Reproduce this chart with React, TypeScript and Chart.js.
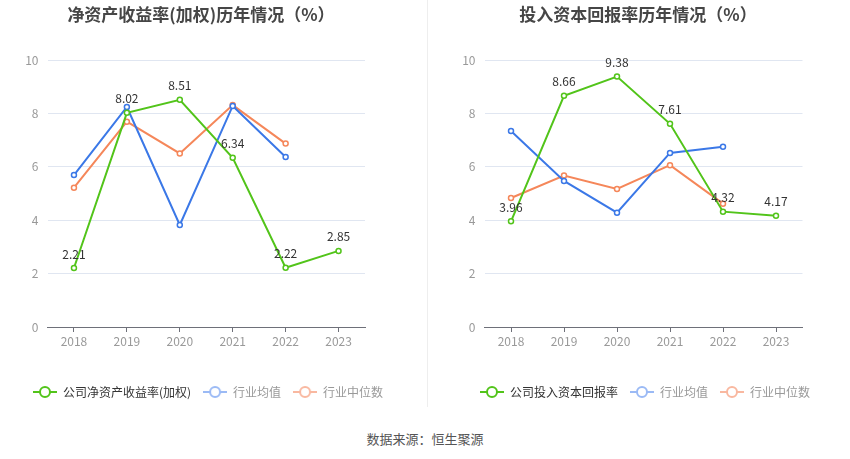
import React, { useEffect, useRef } from "react";
import { Chart, registerables } from "chart.js";

Chart.register(...registerables);

const years = ["2018", "2019", "2020", "2021", "2022", "2023"];

const roeCompany = [2.21, 8.02, 8.51, 6.34, 2.22, 2.85];
const roeIndustryAvg = [5.69, 8.24, 3.82, 8.28, 6.37, null];
const roeIndustryMedian = [5.22, 7.69, 6.5, 8.31, 6.87, null];

const roicCompany = [3.96, 8.66, 9.38, 7.61, 4.32, 4.17];
const roicIndustryAvg = [7.34, 5.47, 4.28, 6.52, 6.75, null];
const roicIndustryMedian = [4.83, 5.67, 5.17, 6.06, 4.62, null];

const yTicks = [0, 2, 4, 6, 8, 10];

const GREEN = "#52c41a";
const BLUE = "#3b78e7";
const ORANGE = "#f5875a";
const FONT = "'Noto Sans CJK SC', 'Noto Sans', sans-serif";

function makeMarker(color: string): HTMLCanvasElement {
  const c = document.createElement("canvas");
  c.width = 24;
  c.height = 14;
  const ctx = c.getContext("2d")!;
  ctx.strokeStyle = color;
  ctx.lineWidth = 2;
  ctx.beginPath();
  ctx.moveTo(0, 7);
  ctx.lineTo(24, 7);
  ctx.stroke();
  ctx.fillStyle = "#fff";
  ctx.beginPath();
  ctx.arc(12, 7, 5, 0, Math.PI * 2);
  ctx.fill();
  ctx.stroke();
  return c;
}

const valueLabels = {
  id: "valueLabels",
  afterDatasetsDraw(chart: any) {
    const ctx = chart.ctx;
    const meta = chart.getDatasetMeta(0);
    const data = chart.data.datasets[0].data;
    ctx.save();
    ctx.font = `12px ${FONT}`;
    ctx.fillStyle = "#333";
    ctx.textAlign = "center";
    ctx.textBaseline = "middle";
    meta.data.forEach((pt: any, i: number) => {
      const v = data[i];
      if (v == null) return;
      ctx.fillText(v.toFixed(2), pt.x, pt.y - 14);
    });
    ctx.restore();
  },
};

const legendShift = {
  id: "legendShift",
  afterLayout(chart: any, _args: any, opts: any) {
    const s = opts && opts.shift ? opts.shift : 0;
    if (chart.legend && s) {
      chart.legend.left += s;
      chart.legend.right += s;
    }
  },
};

type PanelProps = {
  label: string;
  company: (number | null)[];
  avg: (number | null)[];
  median: (number | null)[];
  yWidth: number;
  rWidth: number;
  shift: number;
};

function Panel({ label, company, avg, median, yWidth, rWidth, shift }: PanelProps) {
  const ref = useRef<HTMLCanvasElement>(null);
  useEffect(() => {
    const markers = [makeMarker(GREEN), makeMarker("#9bbaf5"), makeMarker("#f9b8a0")];
    const textColors = ["#333", "#999", "#999"];
    const mk = (l: string, d: (number | null)[], color: string) => ({
      label: l,
      data: d,
      borderColor: color,
      backgroundColor: color,
      borderWidth: 2,
      pointRadius: 2.5,
      pointHoverRadius: 2.5,
      pointBorderWidth: 1.5,
      pointBackgroundColor: "#fff",
      pointBorderColor: color,
      tension: 0,
      spanGaps: false,
    });
    const chart = new Chart(ref.current!, {
      type: "line",
      data: {
        labels: years,
        datasets: [
          mk(label, company, GREEN),
          mk("行业均值", avg, BLUE),
          mk("行业中位数", median, ORANGE),
        ],
      },
      options: {
        responsive: false,
        animation: false,
        layout: { padding: { left: 21, right: 0, top: 60, bottom: 2 } },
        plugins: {
          tooltip: { enabled: false },
          title: { display: false },
          legendShift: { shift },
          legend: {
            display: true,
            position: "bottom",
            align: "start",
            labels: {
              usePointStyle: true,
              pointStyleWidth: 24,
              boxHeight: 12,
              padding: 12,
              font: { size: 12, family: FONT },
              generateLabels: (ch: any) =>
                ch.data.datasets.map((ds: any, i: number) => ({
                  text: ds.label,
                  fillStyle: "#fff",
                  strokeStyle: ds.borderColor,
                  lineWidth: 0,
                  pointStyle: markers[i],
                  fontColor: textColors[i],
                  hidden: false,
                  datasetIndex: i,
                })),
            },
          },
        },
        scales: {
          x: {
            type: "category",
            offset: true,
            grid: {
              display: true,
              drawOnChartArea: false,
              drawTicks: true,
              tickLength: 5,
              color: "#6e7079",
            },
            border: { display: true, color: "#6e7079", width: 1 },
            ticks: { color: "#999", font: { size: 12, family: FONT }, padding: 2 },
            afterFit: (s: any) => {
              s.height = 47;
            },
          },
          y: {
            type: "linear",
            position: "left",
            min: 0,
            max: 10,
            afterBuildTicks: (s: any) => {
              s.ticks = yTicks.map((v) => ({ value: v }));
            },
            grid: { color: "#e0e6f1", drawTicks: false, lineWidth: 1 },
            border: { display: false },
            ticks: { color: "#999", font: { size: 12, family: FONT }, padding: 9 },
            afterFit: (s: any) => {
              s.width = yWidth;
            },
          },
          yr: {
            type: "linear",
            position: "right",
            display: true,
            grid: { display: false },
            border: { display: false },
            ticks: { display: false },
            afterFit: (s: any) => {
              s.width = rWidth;
            },
          },
        },
      } as any,
      plugins: [valueLabels, legendShift],
    });
    return () => chart.destroy();
  }, []);
  return <canvas ref={ref} width={425} height={410} />;
}

export default function App() {
  const titleStyle: React.CSSProperties = {
    position: "absolute",
    top: 2,
    width: 400,
    textAlign: "center",
    fontFamily: FONT,
    fontWeight: 700,
    fontSize: 17,
    color: "#464646",
    lineHeight: "24px",
    whiteSpace: "nowrap",
  };
  return (
    <div
      style={{
        position: "absolute",
        left: 0,
        top: 0,
        width: 850,
        height: 459,
        background: "#fff",
        overflow: "hidden",
      }}
    >
      <div style={{ position: "absolute", left: 0, top: 0 }}>
        <Panel
          label="公司净资产收益率(加权)"
          company={roeCompany}
          avg={roeIndustryAvg}
          median={roeIndustryMedian}
          yWidth={26.5}
          rWidth={60}
          shift={0}
        />
      </div>
      <div style={{ position: "absolute", left: 425, top: 0 }}>
        <Panel
          label="公司投入资本回报率"
          company={roicCompany}
          avg={roicIndustryAvg}
          median={roicIndustryMedian}
          yWidth={38.5}
          rWidth={47.5}
          shift={22}
        />
      </div>
      <div style={{ ...titleStyle, left: 201 - 200 }}>净资产收益率(加权)历年情况（%）</div>
      <div style={{ ...titleStyle, left: 638 - 200 }}>投入资本回报率历年情况（%）</div>
      <div
        style={{
          position: "absolute",
          left: 427,
          top: 0,
          width: 1,
          height: 407,
          background: "#eeeeee",
        }}
      />
      <div
        style={{
          position: "absolute",
          left: 0,
          top: 430,
          width: 850,
          textAlign: "center",
          fontFamily: FONT,
          fontSize: 13,
          color: "#555",
          lineHeight: "18px",
        }}
      >
        数据来源：恒生聚源
      </div>
    </div>
  );
}
